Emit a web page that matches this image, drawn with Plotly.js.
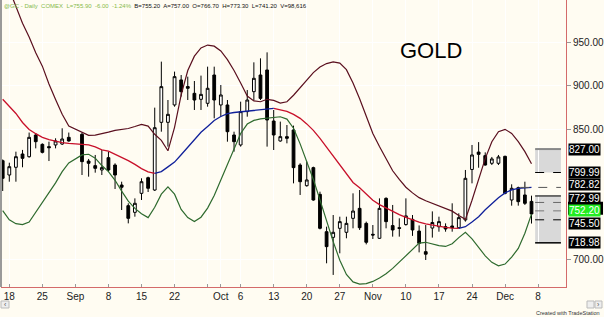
<!DOCTYPE html>
<html><head><meta charset="utf-8">
<script src="https://cdn.plot.ly/plotly-3.0.1.min.js"></script>
<style>html,body{margin:0;padding:0;background:#FFFCF2;}#chart{width:604px;height:317px;}</style>
</head><body><div id="chart"></div>
<script>
// ---- data ----
const dates = [
'2008-08-15','2008-08-18','2008-08-19','2008-08-20','2008-08-21','2008-08-22',
'2008-08-25','2008-08-26','2008-08-27','2008-08-28','2008-08-29',
'2008-09-02','2008-09-03','2008-09-04','2008-09-05',
'2008-09-08','2008-09-09','2008-09-10','2008-09-11','2008-09-12',
'2008-09-15','2008-09-16','2008-09-17','2008-09-18','2008-09-19',
'2008-09-22','2008-09-23','2008-09-24','2008-09-25','2008-09-26',
'2008-09-29','2008-09-30','2008-10-01','2008-10-02','2008-10-03',
'2008-10-06','2008-10-07','2008-10-08','2008-10-09','2008-10-10',
'2008-10-13','2008-10-14','2008-10-15','2008-10-16','2008-10-17',
'2008-10-20','2008-10-21','2008-10-22','2008-10-23','2008-10-24',
'2008-10-27','2008-10-28','2008-10-29','2008-10-30','2008-10-31',
'2008-11-03','2008-11-04','2008-11-05','2008-11-06','2008-11-07',
'2008-11-10','2008-11-11','2008-11-12','2008-11-13','2008-11-14',
'2008-11-17','2008-11-18','2008-11-19','2008-11-20','2008-11-21',
'2008-11-24','2008-11-25','2008-11-26','2008-11-27','2008-11-28',
'2008-12-01','2008-12-02','2008-12-03','2008-12-04','2008-12-05'];

const openP = [813.6,797.1,806.0,821.3,818.2,843.2,832.4,829.8,831.7,832.8,840.5,
844.0,813.2,807.9,802.9, 817.1,808.6,785.6,761.8,754.1, 776.0,794.0,779.8,857.8,857.8,
877.8,906.6,899.0,891.2,884.3, 879.7,912.3,877.8,877.8,843.2, 831.7,870.1,893.1,912.3,918.1,
859.3,836.3,841.3,849.0,808.6, 784.8,805.6,774.8,731.8,725.3, 735.7,731.1,747.2,758.7,741.4,
728.8,724.2,770.2,738.8,736.4, 740.0,746.0,732.5,708.8,736.0, 737.5,737.6,738.4,736.4,745.3,
803.5,823.5,819.4,810.6,810.6, 818.6,768.3,782.5,774.1,766.7];
const highP = [815.0,811.3,824.0,826.0,846.0,845.1,833.6,835.5,839.4,850.9,846.0,
846.0,815.6,820.2,826.0, 824.0,810.6,789.4,764.5,770.2, 793.3,795.2,874.7,927.7,883.5,
916.2,912.3,910.4,905.4,911.6, 921.9,921.9,900.8,883.5,847.0, 881.6,895.0,926.9,931.5,938.4,
872.0,858.6,854.7,854.0,810.6, 812.5,806.7,777.9,737.6,751.0, 749.1,749.1,776.0,779.8,743.4,
739.5,770.2,771.4,762.6,747.2, 770.2,751.0,739.0,739.5,755.2, 749.1,741.4,764.5,753.0,802.9,
831.7,835.0,823.2,817.9,820.2, 819.4,786.4,783.7,789.4,773.3];
const lowP = [778.7,789.4,789.4,806.0,817.1,827.8,822.0,813.2,827.8,831.7,835.5,
797.1,795.2,799.8,797.1, 801.0,781.0,756.8,741.4,749.1, 768.3,777.5,778.7,847.0,829.8,
875.8,887.4,883.5,872.0,872.0, 875.8,862.4,864.3,835.5,824.0, 829.8,864.3,883.5,883.5,829.8,
825.9,835.5,833.6,787.5,774.1, 783.7,767.5,734.5,695.4,682.0, 706.9,724.2,735.7,733.8,717.2,
723.4,723.4,735.7,726.1,726.1, 738.8,727.0,708.0,699.2,725.0, 731.8,731.8,731.8,735.7,743.4,
787.5,805.5,807.9,808.6,808.6, 774.8,761.8,761.8,762.6,741.2];
const closeP = [793.3,806.7,818.2,816.3,840.5,835.5,823.2,828.6,836.3,838.6,836.3,
812.5,810.6,804.8,805.6, 802.9,797.1,783.0,747.2,764.5, 789.4,781.8,851.6,898.9,867.0,
910.4,893.1,897.0,883.5,890.0, 897.0,883.5,889.3,847.0,835.5, 870.1,883.5,908.5,885.4,860.5,
843.2,841.3,839.4,805.6,789.4, 791.4,768.3,735.7,714.6,731.1, 743.4,741.4,755.6,736.4,719.6,
728.0,758.7,743.4,733.8,735.7, 750.0,733.8,718.4,705.9,742.4, 743.4,734.9,736.4,748.0,793.3,
820.2,820.9,808.6,815.6,817.9, 776.0,781.8,766.4,764.5,752.2];

const upperBand = [1030,1010,990,972,956,938,922.5,902,884,867,853.5,
846,842.8,843,844.5, 846.5,848.6,849.8,850.7,853, 855.5,853.5,844,837,825,
852,889.5,917.5,934,943.5, 946.8,945.5,940,930,917.5, 903,888,882.5,881.5,884.3,
883,880,881.5,889,897.5, 906.5,915,921.5,925.5,927.5, 926,918.5,903,885,864,
845,830,815.5,802,792, 783,776.5,771,767.5,764.5, 761,758.5,755.5,750.5,746,
768,793,816,835.5,847, 849.7,845,835.5,824,810];
const midBand = [884.3,876.6,868,857.6,849.5,844.7,840.5,837.8,835.8,834.5,833.5,
832.5,831.8,829.6,826, 824.5,821,817.3,813.6,809.3, 804.5,800.8,799,801,806.5,
812,820.5,829.5,838.5,846.3, 853,860,864.5,867.8,869.1, 869.8,870.7,871.8,872.6,873.4,
873.8,872.4,870.5,867,862.4, 856,848.5,839.4,829,818.8, 808.6,799,788.5,782.3,775,
768,763,759,755.3,751.4, 748.2,745.4,742.8,740.8,739.2, 738,736.7,736,735.6,737.5,
743,749,757,764.5,771, 776.5,780,781.8,782.4,782.8];
const lowerBand = [756,745.5,741,740,743,754,765.5,776.5,788,801,811,
820.3,821,816.5,808, 801,791,778.5,767,758.7, 752.5,748,760,775,783.5,
775,757.5,748,743.5,748.5, 759,773.5,791.5,811,828.5, 845,855.8,860,861.7,862.7,
863.5,864.2,861.5,851,833, 812.5,792,768.5,743.4,720.4, 699,682.6,674,671.5,672,
674.5,678.5,683.3,689.5,697, 703.5,711,718.6,719.6,717.4, 715.8,714.8,718,725,731,
723.5,714,704,696.5,692.5, 694.5,702.5,712.6,730,752];

const tickDates = ['2008-08-18','2008-08-25','2008-09-01','2008-09-08','2008-09-15','2008-09-22','2008-09-29','2008-10-01','2008-10-06','2008-10-13','2008-10-20','2008-10-27','2008-11-03','2008-11-10','2008-11-17','2008-11-24','2008-12-01','2008-12-08'];
const tickLabels = ['18','25','Sep','8','15','22','','Oct','6','13','20','27','Nov','10','17','24','Dec','8'];
const yTickVals = [700, 850, 900, 950];

const zoneUpper = [799.99, 827.00];
const zoneLower = [718.98, 772.99];
const levelLines = [827.00, 799.99, 782.82, 772.99, 765.50, 755.80, 745.50, 718.98];
const levelTags = ['827.00','799.99','782.82','772.99','745.50','718.98'];
const levelTagValues = [827.00, 799.99, 782.82, 772.99, 745.50, 718.98];
const hiddenTagValue = 758.90;
const lastPrice = 752.20;

const headerGreen = '@GC - Daily  COMEX  L=755.90  -6.00  -1.24%';
const headerBlack = 'B=755.20  A=757.00  O=766.70  H=773.30  L=741.20  V=98,616';

// ---- helpers ----
function weekdayIndex(s){
  const base = Date.UTC(2008,7,18);
  const p = s.split('-').map(Number);
  const days = Math.round((Date.UTC(p[0],p[1]-1,p[2]) - base)/86400000);
  const w = Math.floor(days/7), r = days - 7*w;
  return 5*w + Math.min(r,5);
}
const xi = dates.map(weekdayIndex);
const tickVals = tickDates.map(weekdayIndex);

// middle band split into rising (blue) / falling (red) pieces
const midRed = midBand.map(()=>null), midBlue = midBand.map(()=>null);
for (let i=0;i<midBand.length-1;i++){
  const t = midBand[i+1] >= midBand[i] ? midBlue : midRed;
  t[i] = midBand[i]; t[i+1] = midBand[i+1];
}

const traces = [
  {type:'scatter', mode:'lines', x:xi, y:upperBand, line:{color:'#5A0F1E', width:1.2}, hoverinfo:'skip'},
  {type:'scatter', mode:'lines', x:xi, y:lowerBand, line:{color:'#2E6A2E', width:1.2}, hoverinfo:'skip'},
  {type:'scatter', mode:'lines', x:xi, y:midRed, line:{color:'#C8102A', width:1.3}, connectgaps:false, hoverinfo:'skip'},
  {type:'scatter', mode:'lines', x:xi, y:midBlue, line:{color:'#10209A', width:1.3}, connectgaps:false, hoverinfo:'skip'},
  {type:'candlestick', x:xi, open:openP, high:highP, low:lowP, close:closeP,
   increasing:{line:{color:'#000', width:1}, fillcolor:'#FFFFFF'},
   decreasing:{line:{color:'#000', width:1}, fillcolor:'#000000'},
   whiskerwidth:0, hoverinfo:'skip'}
];

const py = p => (287 - p)/287;
const px = p => (p - 1)/565;

const zx0 = 79.55, zx1 = 83.45;
const shapes = [
  {type:'rect', xref:'x', yref:'y', x0:zx0, x1:zx1, y0:zoneUpper[0], y1:zoneUpper[1], fillcolor:'#D9D9D9', line:{width:0}, layer:'below'},
  {type:'rect', xref:'x', yref:'y', x0:zx0, x1:zx1, y0:zoneLower[0], y1:zoneLower[1], fillcolor:'#D9D9D9', line:{width:0}, layer:'below'},
];
const lineStyles = [
  {c:'#888888', w:2, d:'solid', x0:zx0},
  {c:'#000000', w:1, d:'dash', x0:zx0},
  {c:'#555555', w:1, d:'dash', x0:77.3},
  {c:'#444444', w:1.5, d:'solid', x0:zx0},
  {c:'#666666', w:1, d:'dash', x0:zx0},
  {c:'#777777', w:1, d:'dash', x0:zx0},
  {c:'#000000', w:1, d:'dash', x0:zx0},
  {c:'#000000', w:1.5, d:'solid', x0:zx0},
];
levelLines.forEach((v,k)=>{
  const s = lineStyles[k];
  shapes.push({type:'line', xref:'x', yref:'y', x0:s.x0, x1:zx1, y0:v, y1:v, line:{color:s.c, width:s.w, dash:s.d}});
});
// black tag hidden behind the green last-price tag
shapes.push({type:'rect', xref:'paper', yref:'y', x0:px(568), x1:px(603), y0:hiddenTagValue-7.5, y1:hiddenTagValue+7.5, fillcolor:'#000', line:{width:0}, layer:'above'});
// left border
shapes.push({type:'line', xref:'paper', yref:'paper', x0:0, x1:0, y0:0, y1:1, line:{color:'#9A9A9A', width:2}});
// scroll bar row
shapes.push({type:'rect', xref:'paper', yref:'paper', x0:px(1), x1:px(9), y0:py(308), y1:py(301), fillcolor:'#EEEEEE', line:{color:'#BBBBBB', width:1}});
shapes.push({type:'rect', xref:'paper', yref:'paper', x0:px(587), x1:px(594), y0:py(308), y1:py(301), fillcolor:'#EEEEEE', line:{color:'#BBBBBB', width:1}});
shapes.push({type:'rect', xref:'paper', yref:'paper', x0:px(595), x1:px(602), y0:py(308), y1:py(301), fillcolor:'#EEEEEE', line:{color:'#BBBBBB', width:1}});

const annotations = [
  {xref:'paper', yref:'paper', x:px(430.5), y:py(50), text:'GOLD', showarrow:false, font:{family:'Arial, Liberation Sans', size:22, color:'#000'}, xanchor:'center', yanchor:'middle'},
  {xref:'paper', yref:'paper', x:px(2), y:py(1), showarrow:false, xanchor:'left', yanchor:'top',
   text:'<span style="color:#86BA4A">'+headerGreen+'</span>  '+headerBlack,
   font:{family:'Arial, Liberation Sans', size:6, color:'#111'}},
  {xref:'paper', yref:'paper', x:px(602), y:py(313), text:'Created with TradeStation', showarrow:false, font:{family:'Arial, Liberation Sans', size:5.5, color:'#333'}, xanchor:'right', yanchor:'middle'},
  {xref:'paper', yref:'paper', x:px(5), y:py(304.5), text:'‹', showarrow:false, font:{family:'Arial', size:7, color:'#555'}, xanchor:'center', yanchor:'middle'},
  {xref:'paper', yref:'paper', x:px(598.5), y:py(304.5), text:'›', showarrow:false, font:{family:'Arial', size:7, color:'#555'}, xanchor:'center', yanchor:'middle'},
];
// small vertical nudges so stacked price tags do not cover each other
const tagShift = {'782.82':2.5, '772.99':-2.5, '745.50':-3.5};
levelTags.forEach((t,k)=>{
  annotations.push({xref:'paper', yref:'y', x:px(568), y:levelTagValues[k], text:t, showarrow:false,
    yshift: tagShift[t] || 0,
    bgcolor:'#000', borderpad:0, font:{family:'Arial, Liberation Sans', size:10, color:'#fff'}, xanchor:'left', yanchor:'middle'});
});
annotations.push({xref:'paper', yref:'y', x:px(568), y:lastPrice, text:lastPrice.toFixed(2), showarrow:false,
  yshift:3, bgcolor:'#22EE22', borderpad:0, font:{family:'Arial, Liberation Sans', size:10, color:'#fff'}, xanchor:'left', yanchor:'middle'});

const layout = {
  width:604, height:317,
  margin:{l:1, r:38, t:0, b:30},
  paper_bgcolor:'#FFFCF2', plot_bgcolor:'#FFFCF2',
  showlegend:false, boxgap:0.4,
  font:{family:'Arial, Liberation Sans', size:10, color:'#222'},
  xaxis:{range:[-1.256, 84.22], tickmode:'array', tickvals:tickVals, ticktext:tickLabels,
    ticks:'inside', ticklen:3, tickcolor:'#999', showgrid:true, gridcolor:'#FFFFFF', gridwidth:1,
    showline:true, linecolor:'#D46A6A', linewidth:1, zeroline:false, rangeslider:{visible:false},
    tickfont:{size:10, color:'#222'}, fixedrange:true},
  yaxis:{range:[668.1, 998.7], side:'right', tickmode:'array', tickvals:yTickVals,
    ticktext:yTickVals.map(v=>v.toFixed(2)),
    ticks:'outside', ticklen:4, tickcolor:'#999', showgrid:true, gridcolor:'#FFFFFF', gridwidth:1,
    showline:true, linecolor:'#D46A6A', linewidth:1, zeroline:false,
    tickfont:{size:10, color:'#222'}, fixedrange:true},
  shapes:shapes, annotations:annotations
};
Plotly.newPlot('chart', traces, layout, {staticPlot:true, displayModeBar:false});
</script></body></html>
